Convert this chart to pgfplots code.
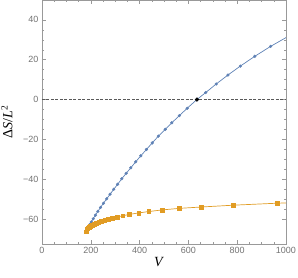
\documentclass[border=0pt]{standalone}
\usepackage{fontspec}
\setmainfont{Liberation Serif}
\setsansfont{Liberation Sans}
\usepackage{pgfplots}
\pgfplotsset{compat=1.18}
\definecolor{mblue}{rgb}{0.368417,0.506779,0.709798}
\definecolor{morange}{rgb}{0.880722,0.611041,0.142051}
\begin{document}
\begin{tikzpicture}
\useasboundingbox (-42pt,-34pt) rectangle (256pt,244pt);
\begin{axis}[
  at={(0pt,0pt)}, anchor=south west,
  scale only axis, width=244pt, height=244pt,
  xmin=0, xmax=1000, ymin=-72.6, ymax=50,
  xtick={0,200,...,1000}, ytick={-60,-40,...,40},
  yticklabels={−60,−40,−20,0,20,40},
  minor x tick num=3, minor y tick num=3,
  xticklabel pos=left, yticklabel pos=left,
  tick align=inside,
  major tick length=4pt, minor tick length=2pt,
  axis line style={black!40, line width=0.5pt},
  every tick/.style={black!40, line width=0.5pt},
  tick label style={font=\sffamily\fontsize{9}{10}\selectfont, text=black!55},
  /pgf/number format/assume math mode=true,
  /pgf/number format/1000 sep={},
  xlabel={\fontsize{14}{16}\selectfont\textit{V}},
  ylabel={\fontsize{14}{16}\selectfont Δ\textit{S}/\textit{L}\raisebox{0.75ex}{\fontsize{9.5}{10}\selectfont 2}},
  xlabel style={at={(axis description cs:0.48,0)}, anchor=north, yshift=-10pt},
  ylabel style={at={(axis description cs:0,0.5)}, anchor=south, yshift=26pt},
  clip=true,
]
\addplot[black!65, line width=0.7pt, dash pattern=on 3pt off 1.5pt] coordinates {(0,0) (1000,0)};
% blue line
\addplot[mblue, line width=0.7pt, no marks] coordinates {
(180,-66.4) (184,-65.5) (189,-64.3) (195,-62.9) (202,-61.5) (210,-59.9) (219,-58.1) (229,-56.2) (240,-54.2) (252,-52.1) (265,-49.9) (279,-47.6) (294,-45.1) (310,-42.6) (327,-39.8) (345,-37.1) (364,-34.3) (384,-31.3) (405,-28.3) (428,-25.1) (452,-21.8) (477,-18.4) (505,-15.0) (532,-11.7) (563,-8.1) (595,-4.4) (635,0) (671,3.5) (714,7.8) (762,12.3) (813,16.8) (872,21.7) (937,26.7) (1007,31.6)};
\addplot[mblue, only marks, mark=*, mark size=1.4pt] coordinates {
(180,-66.4) (184,-65.5) (189,-64.3) (195,-62.9) (202,-61.5) (210,-59.9) (219,-58.1) (229,-56.2) (240,-54.2) (252,-52.1) (265,-49.9) (279,-47.6) (294,-45.1) (310,-42.6) (327,-39.8) (345,-37.1) (364,-34.3) (384,-31.3) (405,-28.3) (428,-25.1) (452,-21.8) (477,-18.4) (505,-15.0) (532,-11.7) (563,-8.1) (595,-4.4) (635,0) (671,3.5) (714,7.8) (762,12.3) (813,16.8) (872,21.7) (937,26.7)};
% orange line
\addplot[morange, line width=0.7pt, no marks] coordinates {
(180,-66.4) (183,-65.2) (187,-64.6) (192,-64.0) (198,-63.5) (205,-63.0) (213,-62.5) (222,-62.0) (232,-61.5) (244,-61.0) (257,-60.5) (272,-60.0) (289,-59.5) (308,-59.0) (331,-58.4) (359,-57.7) (396,-57.0) (437,-56.3) (491,-55.5) (562,-54.7) (654,-54.0) (784,-53.1) (964,-52.1) (1200,-51.4)};
\addplot[morange, only marks, mark=square*, mark size=1.9pt] coordinates {
(180,-66.4) (183,-65.2) (187,-64.6) (192,-64.0) (198,-63.5) (205,-63.0) (213,-62.5) (222,-62.0) (232,-61.5) (244,-61.0) (257,-60.5) (272,-60.0) (289,-59.5) (308,-59.0) (331,-58.4) (359,-57.7) (396,-57.0) (437,-56.3) (491,-55.5) (562,-54.7) (654,-54.0) (784,-53.1) (964,-52.1)};
\addplot[black, only marks, mark=*, mark size=1.9pt] coordinates {(635,0)};
\end{axis}
\end{tikzpicture}
\end{document}
